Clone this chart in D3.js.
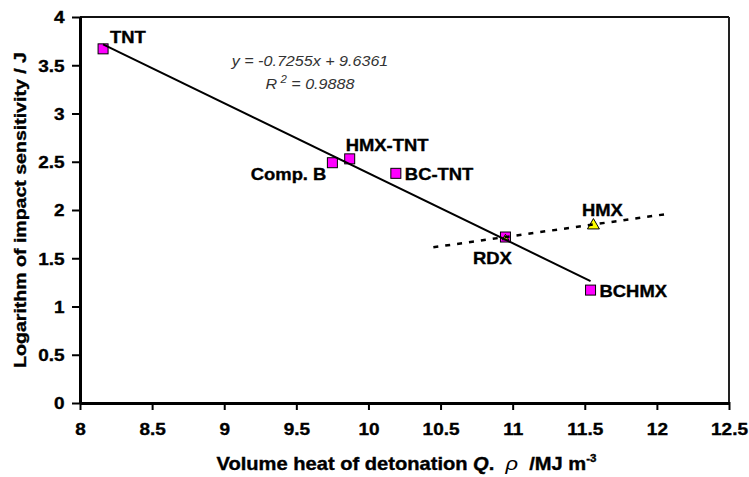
<!DOCTYPE html>
<html>
<head>
<meta charset="utf-8">
<script src="https://cdn.jsdelivr.net/npm/d3@7"></script>
<style>
  body { margin: 0; background: #fff; }
  svg text { font-family: Arial, "Liberation Sans", sans-serif; }
</style>
</head>
<body>
<div id="chart"></div>
<script>
// data
var names = ["TNT", "Comp. B", "HMX-TNT", "BC-TNT", "RDX", "BCHMX"];
var heatQ = [8.16, 9.75, 9.87, 10.19, 10.95, 11.54];
var logImpact = [3.67, 2.49, 2.53, 2.38, 1.72, 1.17];
// second series (triangles, dashed trend)
var triNames = ["RDX", "HMX"];
var triHeatQ = [10.95, 11.56];
var triLogImpact = [1.72, 1.85];
// fitted line shown on the chart
var fitSlope = -0.7255;
var fitIntercept = 9.6361;
var fitR2 = 0.9888;
var xTicks = [8, 8.5, 9, 9.5, 10, 10.5, 11, 11.5, 12, 12.5];
var yTicks = [0, 0.5, 1, 1.5, 2, 2.5, 3, 3.5, 4];

var svgWidth = 749, svgHeight = 477;
var margin = {top: 17, right: 20, bottom: 74, left: 80};
var chartWidth = svgWidth - margin.left - margin.right;
var chartHeight = svgHeight - margin.top - margin.bottom;
var stretch = 1.15; // the source font is drawn a bit wider than Arial

// label placement relative to its marker
var labelPos = {
  "TNT": {dx: 7, dy: -6, anchor: "start"},
  "Comp. B": {dx: -6, dy: 17, anchor: "end"},
  "HMX-TNT": {dx: -4, dy: -8, anchor: "start"},
  "BC-TNT": {dx: 9, dy: 7, anchor: "start"},
  "RDX": {dx: -13, dy: 27, anchor: "middle"},
  "BCHMX": {dx: 9, dy: 7, anchor: "start"},
  "HMX": {dx: 9, dy: -8, anchor: "middle"}
};

var svg = d3.select("#chart").append("svg")
  .attr("width", svgWidth)
  .attr("height", svgHeight);

var chartGroup = svg.append("g")
  .attr("transform", `translate(${margin.left}, ${margin.top})`);

var xScale = d3.scaleLinear().domain([8, 12.5]).range([0, chartWidth]);
var yScale = d3.scaleLinear().domain([0, 4]).range([chartHeight, 0]);

// helper: stretched label (bold by default)
function label(parent, x, y, str, anchor, size, weight, style) {
  var g = parent.append("g").attr("transform", `translate(${x},${y}) scale(${stretch},1)`);
  var t = g.append("text")
    .attr("text-anchor", anchor)
    .attr("font-size", size)
    .attr("font-weight", weight || "bold")
    .attr("font-style", style || "normal")
    .style("white-space", "pre")
    .text(str);
  if (!weight) t.attr("stroke", "#000").attr("stroke-width", 0.35);
  return t;
}

// frame top / right
chartGroup.append("line")
  .attr("x1", 0).attr("x2", chartWidth).attr("y1", 0).attr("y2", 0)
  .attr("stroke", "#111").attr("stroke-width", 2);
chartGroup.append("line")
  .attr("x1", chartWidth).attr("x2", chartWidth).attr("y1", 0).attr("y2", chartHeight)
  .attr("stroke", "#222").attr("stroke-width", 2);

// axes
var xAxis = chartGroup.append("g")
  .attr("transform", `translate(0, ${chartHeight})`)
  .call(d3.axisBottom(xScale).tickValues(xTicks).tickSize(7).tickSizeOuter(0).tickFormat(d3.format("")));
var yAxis = chartGroup.append("g")
  .call(d3.axisLeft(yScale).tickValues(yTicks).tickSize(8).tickSizeOuter(0).tickFormat(d3.format("")));

[xAxis, yAxis].forEach(function(ax) {
  ax.select(".domain").attr("stroke", "#000").attr("stroke-width", 3);
  ax.selectAll(".tick line").attr("stroke", "#000").attr("stroke-width", 2);
  ax.selectAll(".tick text")
    .attr("fill", "#000")
    .attr("stroke", "#000")
    .attr("stroke-width", 0.35)
    .attr("font-size", 16.5)
    .attr("font-weight", "bold")
    .attr("font-family", "Arial, 'Liberation Sans', sans-serif");
});
xAxis.selectAll(".tick line").attr("y1", -1);
xAxis.selectAll(".tick text")
  .attr("y", 0).attr("dy", 0)
  .attr("transform", `translate(0,32) scale(${stretch},1)`);
yAxis.selectAll(".tick line").attr("x1", 2);
yAxis.selectAll(".tick text")
  .attr("x", 0).attr("dy", "0.36em")
  .attr("transform", `translate(-15.5,0) scale(${stretch},1)`);

// square markers
var pts = names.map(function(n, i) { return {name: n, x: heatQ[i], y: logImpact[i]}; });
var triPts = triNames.map(function(n, i) { return {name: n, x: triHeatQ[i], y: triLogImpact[i]}; });

chartGroup.selectAll(".sq")
  .data(pts)
  .enter()
  .append("rect")
  .attr("x", d => xScale(d.x) - 5)
  .attr("y", d => yScale(d.y) - 5)
  .attr("width", 10)
  .attr("height", 10)
  .attr("fill", "#ff00ff")
  .attr("stroke", "#000")
  .attr("stroke-width", 1);

// triangle markers (smaller where it sits on a square)
var triSym = d3.symbol().type(d3.symbolTriangle);
chartGroup.selectAll(".tri")
  .data(triPts)
  .enter()
  .append("path")
  .attr("d", d => triSym.size(names.indexOf(d.name) >= 0 ? 18 : 62)())
  .attr("transform", d => `translate(${xScale(d.x)},${yScale(d.y) + 1})`)
  .attr("fill", "#ffff00")
  .attr("stroke", "#000")
  .attr("stroke-width", 1);

// solid fit line over the square series
var xMin = d3.min(heatQ), xMax = d3.max(heatQ);
chartGroup.append("line")
  .attr("x1", xScale(xMin)).attr("y1", yScale(fitSlope * xMin + fitIntercept))
  .attr("x2", xScale(xMax)).attr("y2", yScale(fitSlope * xMax + fitIntercept))
  .attr("stroke", "#000").attr("stroke-width", 2);

// dashed trend through the triangles, extended half a unit each way
var tSlope = (triLogImpact[1] - triLogImpact[0]) / (triHeatQ[1] - triHeatQ[0]);
var tIcpt = triLogImpact[0] - tSlope * triHeatQ[0];
var tx0 = d3.min(triHeatQ) - 0.5, tx1 = d3.max(triHeatQ) + 0.5;
chartGroup.append("line")
  .attr("x1", xScale(tx0)).attr("y1", yScale(tSlope * tx0 + tIcpt))
  .attr("x2", xScale(tx1)).attr("y2", yScale(tSlope * tx1 + tIcpt))
  .attr("stroke", "#000").attr("stroke-width", 2.5)
  .attr("stroke-dasharray", "5,7");

// point labels
pts.concat(triPts.filter(d => names.indexOf(d.name) < 0)).forEach(function(d) {
  var p = labelPos[d.name];
  label(chartGroup, xScale(d.x) + p.dx, yScale(d.y) + p.dy, d.name, p.anchor, 16);
});

// equation
label(svg, 310, 66, `y = ${fitSlope}x + ${fitIntercept}`, "middle", 14, "normal", "italic")
  .attr("fill", "#333");
var r2 = label(svg, 310, 89, "", "middle", 14, "normal", "italic").attr("fill", "#333");
r2.append("tspan").text("R");
r2.append("tspan").attr("dy", -6).attr("font-size", 10).text(" 2");
r2.append("tspan").attr("dy", 6).text(" = " + fitR2);

// axis titles
var xt = label(svg, margin.left + chartWidth / 2 + 2, 470, "", "middle", 17.5);
xt.append("tspan").text("Volume heat of detonation ");
xt.append("tspan").attr("font-style", "italic").text("Q");
xt.append("tspan").text(".  ");
xt.append("tspan").attr("font-style", "italic").attr("font-weight", "normal").attr("stroke-width", 0).attr("font-size", 19).text("ρ");
xt.append("tspan").text("  /MJ m");
xt.append("tspan").attr("dy", -8).attr("font-size", 10).text("-3");

var ytG = svg.append("g").attr("transform", `translate(26, ${margin.top + chartHeight / 2}) rotate(-90) scale(${stretch},1)`);
ytG.append("text")
  .attr("text-anchor", "middle")
  .attr("font-size", 17)
  .attr("font-weight", "bold")
  .attr("stroke", "#000")
  .attr("stroke-width", 0.35)
  .text("Logarithm of impact sensitivity / J");
</script>
</body>
</html>
